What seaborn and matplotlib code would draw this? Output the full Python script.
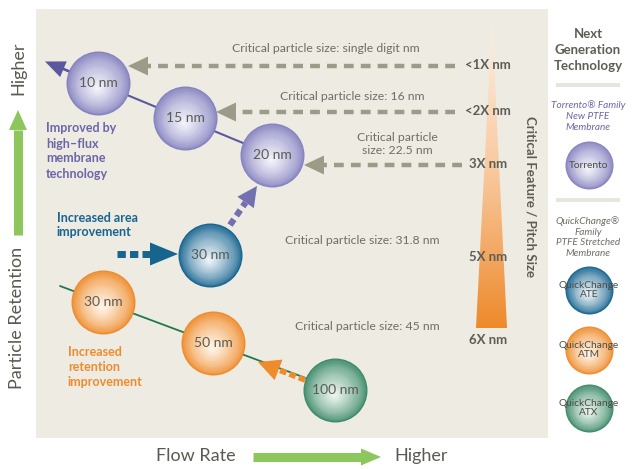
import numpy as np
import pandas as pd
import seaborn as sns
import matplotlib.pyplot as plt
from matplotlib.colors import to_rgb, LinearSegmentedColormap
from matplotlib.patches import Polygon, Rectangle

sns.set_theme(style="white")
plt.rcParams['font.family'] = ['Lato', 'DejaVu Sans']

# membrane points: flow position (px), retention position (px from top)
sizes = ["10 nm", "15 nm", "20 nm", "30 nm", "30 nm", "50 nm", "100 nm"]
flow = [98, 185, 272, 210, 103, 213, 335]
retention = [83, 118, 155, 255, 302, 343, 390]
family = ["torrento", "torrento", "torrento", "ate", "atm", "atm", "atx"]

# critical feature scale
scale_labels = ["<1X nm", "<2X nm", "3X nm", "5X nm", "6X nm"]
scale_y = [65, 111, 164, 257, 340]

critical_text = ["Critical particle size: single digit nm", "Critical particle size: 16 nm",
                 "Critical particle\nsize: 22.5 nm", "Critical particle size: 31.8 nm",
                 "Critical particle size: 45 nm"]
critical_xy = [(326, 48), (352, 96), (397, 144), (362, 241), (367, 326)]

# dashed grey arrows: y, start x, tip x
guide_y = [66, 112, 165]
guide_start = [455, 455, 462]
guide_tip = [128, 216, 304]

legend_names = ["Torrento", "QuickChange\nATE", "QuickChange\nATM", "QuickChange\nATX"]
legend_family = ["torrento", "ate", "atm", "atx"]
legend_y = [165, 290, 350, 408]

colors = {
    "torrento": ("#8582bf", "#f4f4fb"),
    "ate": ("#17648f", "#eef5f9"),
    "atm": ("#ee8b2c", "#fff6ea"),
    "atx": ("#3c8a68", "#eef6f1"),
}

GREY = "#9c9b88"
TXT = "#6f6e66"


def ball(ax, xs, ys, r, fam, n=28):
    edge, center = np.array(to_rgb(colors[fam][0])), np.array(to_rgb(colors[fam][1]))
    xs, ys = np.asarray(xs, float), np.asarray(ys, float)
    for i in range(n):
        f = i / (n - 1)
        rr = r * (1 - 0.97 * f)
        c = edge + (center - edge) * f ** 0.7
        sns.scatterplot(x=xs - f * 0.05 * r, y=ys + f * 0.15 * r, s=(2 * rr * 0.72) ** 2,
                        color=c, linewidth=0, ax=ax, legend=False, zorder=5)


def arrow(ax, x0, y0, x1, y1, color, lw, dash, hl, hw, z=3):
    d = np.array([x1 - x0, y1 - y0], float)
    L = np.hypot(*d)
    u = d / L
    nrm = np.array([-u[1], u[0]])
    base = np.array([x1, y1]) - u * hl
    if dash:
        ax.plot([x0, base[0]], [y0, base[1]], color=color, lw=lw, dashes=dash,
                solid_capstyle='butt', dash_capstyle='butt', zorder=z)
    else:
        ax.plot([x0, base[0]], [y0, base[1]], color=color, lw=lw, solid_capstyle='butt', zorder=z)
    tri = [(x1, y1), tuple(base + nrm * hw / 2), tuple(base - nrm * hw / 2)]
    ax.add_patch(Polygon(tri, closed=True, color=color, lw=0, zorder=z))


fig = plt.figure(figsize=(6.32, 4.69), dpi=100)
ax = fig.add_axes([0, 0, 1, 1])
ax.set_xlim(0, 632)
ax.set_ylim(469, 0)
ax.axis('off')

# panel and sidebar separators
ax.add_patch(Rectangle((36, 9), 512, 429, color="#eeebe3", lw=0, zorder=0))
for yy in [85, 200]:
    ax.add_patch(Rectangle((556, yy - 2), 64, 4, color="#e8e5dc", lw=0, zorder=0))

# orange wedge with gradient
wedge = Polygon([(492, 21), (507, 328), (476, 328)], closed=True, fc='none', lw=0)
ax.add_patch(wedge)
cmap = LinearSegmentedColormap.from_list("w", ["#fdf0e6", "#f8c89c", "#ee8a2c"])
grad = np.linspace(0, 1, 200).reshape(-1, 1)
im = ax.imshow(grad, cmap=cmap, extent=(476, 507, 328, 21), aspect='auto', zorder=1)
im.set_clip_path(wedge)
ax.set_xlim(0, 632)
ax.set_ylim(469, 0)

# connecting lines
ax.plot([63, 272], [68.5, 155], color="#5c58a0", lw=1.5, zorder=2)
arrow(ax, 70, 72, 45, 61.5, "#5c58a0", 1.5, None, 20, 17, z=2)
ax.plot([60, 335], [286, 389], color="#1e7a4a", lw=1.3, zorder=2)

# grey guide arrows
for yy, xs, xt in zip(guide_y, guide_start, guide_tip):
    arrow(ax, xs, yy, xt, yy, GREY, 3.2, (2.2, 1.6), 20, 19)

# improvement arrows
arrow(ax, 117, 254, 178, 254, "#17648f", 5, (1.2, 0.6), 28, 23)
arrow(ax, 230, 225, 257, 186, "#7470b0", 4.5, (1.1, 0.7), 20, 20)
arrow(ax, 305, 380, 258, 362, "#ee8b2c", 4, (1.2, 0.6), 22, 22, z=4)

# membrane balls
df = pd.DataFrame({"size": sizes, "flow": flow, "retention": retention, "family": family})
for fam, g in df.groupby("family"):
    ball(ax, g["flow"], g["retention"], 32, fam)
for _, row in df.iterrows():
    ax.text(row["flow"], row["retention"], row["size"], ha='center', va='center',
            fontsize=10, color="#5a5a54", zorder=10)

# legend balls
for name, fam, yy in zip(legend_names, legend_family, legend_y):
    ball(ax, [589], [yy], 24, fam)
    ax.text(589, yy, name, ha='center', va='center', fontsize=7.3, color="#4a4a44",
            linespacing=1.0, zorder=10)

# critical size text
for t, (xx, yy) in zip(critical_text, critical_xy):
    ax.text(xx, yy, t, ha='center', va='center', fontsize=8.8, color=TXT, linespacing=1.3)
for t, yy in zip(scale_labels, scale_y):
    ax.text(488, yy, t, ha='center', va='center', fontsize=9.5, fontweight='bold', color="#5e5d55")
ax.text(531, 197, "Critical Feature / Pitch Size", rotation=-90, ha='center', va='center',
        fontsize=9.5, fontweight='bold', color="#5e5d55")

# annotation texts
ax.text(46, 151, "Improved by\nhigh–flux\nmembrane\ntechnology", ha='left', va='center',
        fontsize=9, fontweight='bold', color="#6b66aa", linespacing=1.3)
ax.text(57, 225, "Increased area\nimprovement", ha='left', va='center',
        fontsize=9, fontweight='bold', color="#17648f", linespacing=1.3)
ax.text(68, 367, "Increased\nretention\nimprovement", ha='left', va='center',
        fontsize=9, fontweight='bold', color="#ee8b2c", linespacing=1.3)

# sidebar text
ax.text(588, 50, "Next\nGeneration\nTechnology", ha='center', va='center', fontsize=9.5,
        fontweight='bold', color="#5e5d55", linespacing=1.35)
ax.text(588, 116, "Torrento® Family\nNew PTFE\nMembrane", ha='center', va='center', fontsize=7.2,
        style='italic', color="#6b66aa", linespacing=1.25)
ax.text(588, 237, "QuickChange®\nFamily\nPTFE Stretched\nMembrane", ha='center', va='center',
        fontsize=7.2, style='italic', color="#6f6e66", linespacing=1.25)

# axis titles and green arrows
GREEN = "#8dc65c"
ax.text(18, 68, "Higher", rotation=90, ha='center', va='center', fontsize=13, color="#5a5a52")
ax.text(17, 318, "Particle Retention", rotation=90, ha='center', va='center', fontsize=13, color="#5a5a52")
arrow(ax, 18, 235, 18, 110, GREEN, 6.5, None, 20, 18)
ax.text(196, 456, "Flow Rate", ha='center', va='center', fontsize=13, color="#5a5a52")
arrow(ax, 253, 457, 381, 457, GREEN, 6.5, None, 20, 17)
ax.text(421, 456, "Higher", ha='center', va='center', fontsize=13, color="#5a5a52")

fig.savefig("out.png", dpi=100)
